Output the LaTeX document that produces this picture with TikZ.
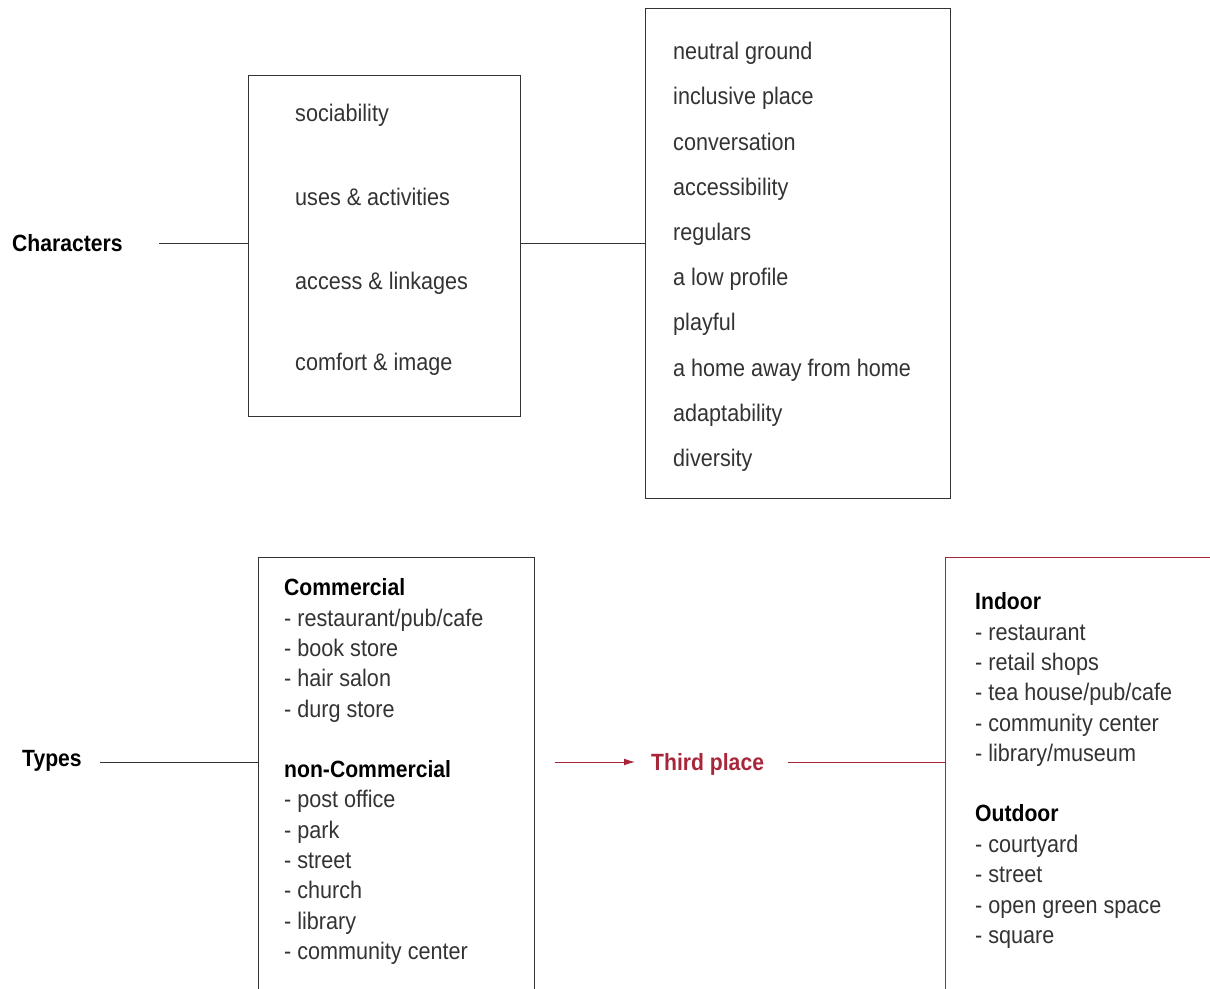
\documentclass[tikz,border=0pt]{standalone}
\usepackage{fontspec}
\setmainfont{Liberation Sans}[FakeStretch=0.9]
\usetikzlibrary{arrows.meta}
\definecolor{tpred}{HTML}{A8263A}
\definecolor{txt}{HTML}{333333}
\definecolor{boxc}{HTML}{333333}
\tikzset{
  lbl/.style={anchor=mid west,inner sep=0pt,yshift=-6pt,text=txt,font=\fontsize{24}{28}\selectfont},
  blbl/.style={anchor=mid west,inner sep=0pt,yshift=-6pt,text=black,font=\fontsize{23.5}{28}\selectfont\bfseries},
  boxline/.style={draw=boxc,line width=1pt},
  conn/.style={draw=boxc,line width=1pt},
}
\begin{document}
\begin{tikzpicture}[x=1pt,y=-1pt]
\useasboundingbox (0,0) rectangle (1210,988);
\clip (0,0) rectangle (1210,988);
% top boxes
\node[boxline,minimum width=272pt,minimum height=341pt,anchor=north west,inner sep=0pt] (b1) at (248,75) {};
\node[boxline,minimum width=305pt,minimum height=490pt,anchor=north west,inner sep=0pt] (b2) at (645,8) {};
\node[blbl] (char) at (12,243) {Characters};
\coordinate (c1) at (159,243);
\draw[conn] (c1) -- (c1 -| b1.west);
\draw[conn] (b1.east |- c1) -- (b2.west |- c1);
\node[lbl] (s1) at (295,113) {sociability};
\node[lbl] (s2) at (295,197) {uses \& activities};
\node[lbl] (s3) at (295,281) {access \& linkages};
\node[lbl] (s4) at (295,362) {comfort \& image};
\foreach \t [count=\i] in {neutral ground,inclusive place,conversation,accessibility,regulars,a low profile,playful,a home away from home,adaptability,diversity}
  \node[lbl] (r\i) at (673,{51+(\i-1)*45.2}) {\t};
% bottom
\coordinate (b3tl) at (258,557);
\coordinate (b3tr) at (534,557);
\draw[boxline] (258,1000) -- (b3tl) -- (b3tr) -- (534,1000);
\node[blbl] (types) at (22,758) {Types};
\coordinate (t1) at (100,762);
\draw[conn] (t1) -- (t1 -| b3tl);
\node[blbl] (com) at (284,587) {Commercial};
\foreach \t [count=\i] in {restaurant/pub/cafe,book store,hair salon,durg store}
  \node[lbl] (cm\i) at (284,{587+\i*30.4}) {- \t};
\node[blbl] (ncom) at (284,769) {non-Commercial};
\foreach \t [count=\i] in {post office,park,street,church,library,community center}
  \node[lbl] (nc\i) at (284,{769+\i*30.3}) {- \t};
% third place
\coordinate (a0) at (555,762);
\node[blbl,text=tpred] (tp) at (651,762) {Third place};
\draw[tpred,line width=1pt,-{Latex[length=11pt,width=7pt]}] (a0) -- ([xshift=-16pt]tp.west |- a0);
\coordinate (b4tl) at (945,557);
\draw[tpred,line width=1pt] (945,1000) -- (b4tl) -- (1215,557);
\draw[tpred,line width=1pt] ([xshift=24pt]tp.east |- a0) -- (b4tl |- a0);
\node[blbl] (ind) at (975,601) {Indoor};
\foreach \t [count=\i] in {restaurant,retail shops,tea house/pub/cafe,community center,library/museum}
  \node[lbl] (in\i) at (975,{601+\i*30.4}) {- \t};
\node[blbl] (out) at (975,813) {Outdoor};
\foreach \t [count=\i] in {courtyard,street,open green space,square}
  \node[lbl] (ou\i) at (975,{813+\i*30.5}) {- \t};
\end{tikzpicture}
\end{document}
